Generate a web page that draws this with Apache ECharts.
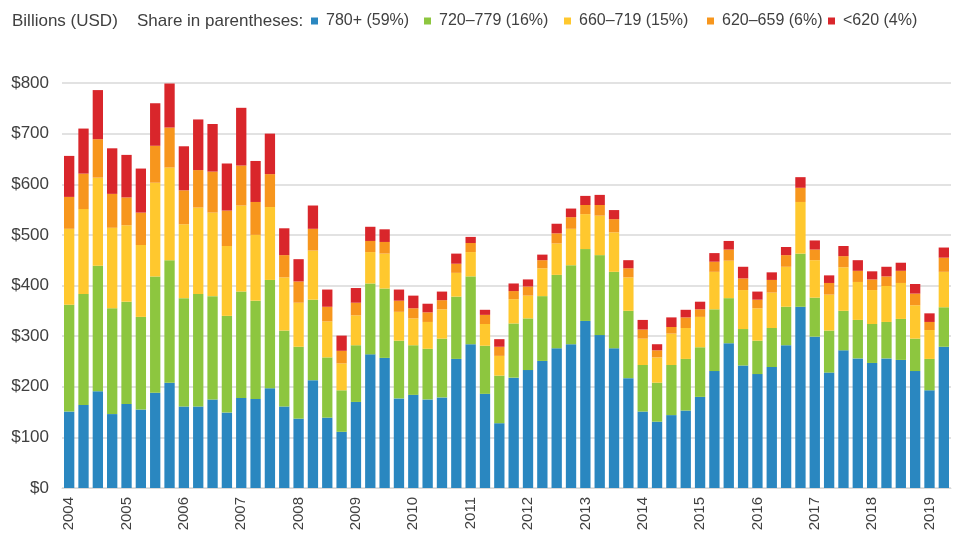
<!DOCTYPE html>
<html>
<head>
<meta charset="utf-8">
<script src="https://cdn.jsdelivr.net/npm/echarts@6/dist/echarts.min.js"></script>
<style>
  html, body { margin: 0; padding: 0; background: #fff; }
  #chart { width: 960px; height: 538px; }
</style>
</head>
<body>
<div id="chart"></div>
<script>
// quarters 2004Q1 .. 2019Q2
const years = []
for (let y = 2004; y <= 2019; y++) years.push(y)
const quarters = []
years.forEach(y => { for (let q = 1; q <= 4; q++) quarters.push(y + 'Q' + q) })
quarters.length = 62

// values per credit-score band, billions USD
const s780 = [151,164,191,146,166,155,188,208,161,161,175,149,178,176,197,161,
  137,213,139,111,170,264,257,177,184,175,179,255,284,186,128,218,
  233,251,276,284,330,302,276,217,151,131,144,153,180,231,286,242,
  225,239,282,358,299,228,272,256,247,256,253,231,193,279]
const s720 = [211,219,248,209,202,183,230,242,214,222,204,191,210,194,214,150,
  142,159,119,82,112,140,137,114,98,100,116,123,134,95,94,107,
  102,128,145,156,142,158,151,133,92,77,99,102,98,122,89,72,
  66,77,76,105,77,83,78,76,77,72,81,64,62,78]
const s660 = [150,168,174,159,151,142,185,183,146,171,165,138,170,130,144,105,
  87,97,71,53,59,62,69,57,53,53,58,47,48,43,39,48,
  45,55,62,72,69,78,78,66,52,50,62,61,60,74,74,77,
  64,70,79,102,74,71,86,75,67,71,71,66,57,70]
const s620 = [63,70,76,67,55,64,73,79,67,74,81,70,79,65,65,44,
  42,43,29,25,25,22,23,22,20,19,18,18,18,18,18,16,
  18,16,20,23,18,21,26,18,18,14,13,21,15,20,22,23,
  17,25,23,28,21,23,22,22,21,19,24,23,16,28]
const sLow = [81,89,97,90,84,87,84,87,87,100,94,93,114,81,80,53,
  44,46,34,30,29,28,25,22,25,17,17,20,12,10,15,15,
  14,11,19,17,18,20,18,16,19,12,19,15,15,17,17,23,
  16,15,16,21,18,15,20,21,16,19,16,19,17,20]

const bandNames = ['780+ (59%)', '720\u2013779 (16%)', '660\u2013719 (15%)', '620\u2013659 (6%)', '<620 (4%)']
const bandColors = ['#2a87c0', '#8dc63f', '#ffc82e', '#f7961d', '#d9262b']
const bandData = [s780, s720, s660, s620, sLow]
// x of each legend square (reference spacing is uneven)
const legendLeft = [311, 424, 564, 707, 828]

const font = 'Liberation Sans, Arial, sans-serif'
const textColor = '#404040'
const chart = echarts.init(document.getElementById('chart'))

chart.setOption({
  animation: false,
  title: [
    { text: 'Billions (USD)', left: 12, top: 13, padding: 0,
      textStyle: { fontFamily: font, fontSize: 17, fontWeight: 'normal', color: textColor } },
    { text: 'Share in parentheses:', left: 137, top: 13, padding: 0,
      textStyle: { fontFamily: font, fontSize: 17, fontWeight: 'normal', color: textColor } }
  ],
  legend: bandNames.map((name, i) => ({
    left: legendLeft[i], top: 13, padding: 0,
    icon: 'rect', itemWidth: 7, itemHeight: 7,
    textStyle: { fontFamily: font, fontSize: 16, color: textColor, padding: [0, 0, 0, 3] },
    data: [name]
  })),
  grid: { left: 62, right: 9, top: 83, bottom: 50 },
  xAxis: {
    type: 'category',
    data: quarters,
    axisLine: { lineStyle: { color: '#d9d9d9' } },
    axisTick: { show: false },
    axisLabel: {
      interval: 3, rotate: 90, margin: 9,
      fontFamily: font, fontSize: 15, color: textColor,
      formatter: v => v.slice(0, 4)
    }
  },
  yAxis: {
    type: 'value', min: 0, max: 800, interval: 100,
    axisLabel: { fontFamily: font, fontSize: 17, color: textColor, margin: 13,
      formatter: v => '$' + v },
    splitLine: { lineStyle: { color: '#d9d9d9', width: 1.5 } }
  },
  series: bandNames.map((name, i) => ({
    name: name,
    type: 'bar',
    stack: 'total',
    barWidth: '72%',
    itemStyle: { color: bandColors[i] },
    data: bandData[i]
  }))
})
</script>
</body>
</html>
